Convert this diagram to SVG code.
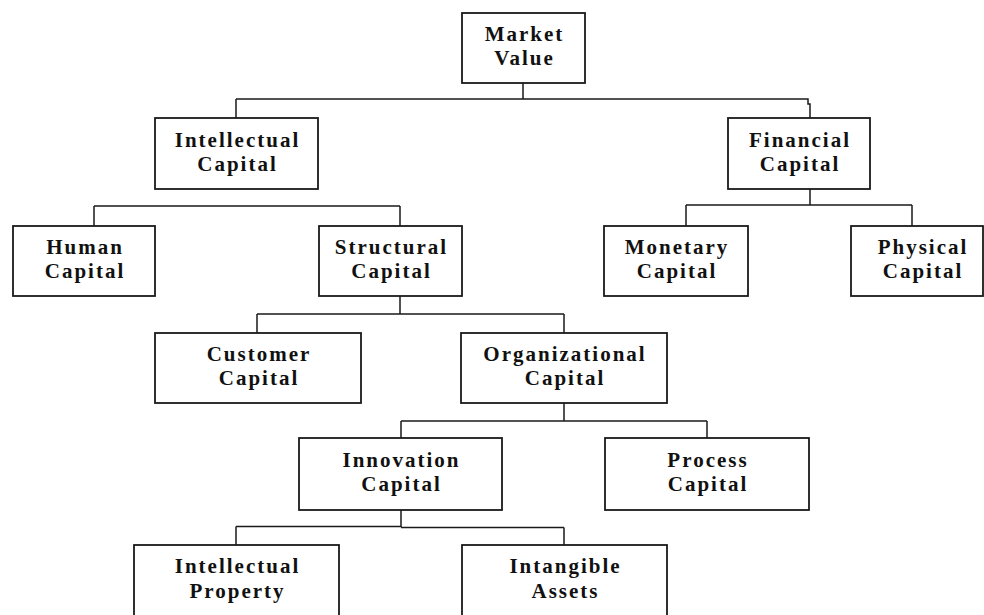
<svg xmlns="http://www.w3.org/2000/svg" width="984" height="615" viewBox="0 0 984 615">
<style>
.box{fill:#fff;stroke:#1a1a1a;stroke-width:1.8}
.ln{fill:none;stroke:#1a1a1a;stroke-width:1.5}
text{font-family:"Liberation Serif","Times New Roman",serif;font-weight:bold;font-size:21px;letter-spacing:2px;fill:#111;text-anchor:middle}
</style>
<rect width="984" height="615" fill="#fff"/>
<g id="connectors">
<path class="ln" d="M523,83 V99 M236,99 H808 V104 H810 V118 M236,99 V118"/>
<path class="ln" d="M94,206 H400 M94,206 V226 M400,206 V226"/>
<path class="ln" d="M810,189 V205 M686,205 H912 M686,205 V226 M912,205 V226"/>
<path class="ln" d="M400,296 V314 M257,314 H564 M257,314 V333 M564,314 V333"/>
<path class="ln" d="M564,403 V421 M401,421 H707 M401,421 V438 M707,421 V438"/>
<path class="ln" d="M401,510 V527 M236,526.5 H401 M401,527.5 H564 M236,526.5 V545 M564,527.5 V545"/>
</g>
<g id="market-value"><rect class="box" x="462" y="13" width="123" height="70"/><text x="524.5" y="41">Market</text><text x="524.5" y="65">Value</text></g>
<g id="intellectual-capital"><rect class="box" x="155" y="118" width="163" height="71"/><text x="237.5" y="147">Intellectual</text><text x="237.5" y="171">Capital</text></g>
<g id="financial-capital"><rect class="box" x="728" y="118" width="142" height="71"/><text x="800" y="147">Financial</text><text x="800" y="171">Capital</text></g>
<g id="human-capital"><rect class="box" x="13" y="226" width="142" height="70"/><text x="85" y="254">Human</text><text x="85" y="278">Capital</text></g>
<g id="structural-capital"><rect class="box" x="319" y="226" width="143" height="70"/><text x="391.5" y="254">Structural</text><text x="391.5" y="278">Capital</text></g>
<g id="monetary-capital"><rect class="box" x="604" y="226" width="144" height="70"/><text x="677" y="254">Monetary</text><text x="677" y="278">Capital</text></g>
<g id="physical-capital"><rect class="box" x="851" y="226" width="132" height="70"/><text x="923" y="254">Physical</text><text x="923" y="278">Capital</text></g>
<g id="customer-capital"><rect class="box" x="155" y="333" width="206" height="70"/><text x="259" y="361">Customer</text><text x="259" y="385">Capital</text></g>
<g id="organizational-capital"><rect class="box" x="461" y="333" width="206" height="70"/><text x="565" y="361">Organizational</text><text x="565" y="385">Capital</text></g>
<g id="innovation-capital"><rect class="box" x="299" y="438" width="203" height="72"/><text x="401.5" y="467">Innovation</text><text x="401.5" y="491">Capital</text></g>
<g id="process-capital"><rect class="box" x="605" y="438" width="204" height="72"/><text x="708" y="467">Process</text><text x="708" y="491">Capital</text></g>
<g id="intellectual-property"><rect class="box" x="134" y="545" width="205" height="90"/><text x="237.5" y="573">Intellectual</text><text x="237.5" y="598">Property</text></g>
<g id="intangible-assets"><rect class="box" x="462" y="545" width="205" height="90"/><text x="565.5" y="573">Intangible</text><text x="565.5" y="598">Assets</text></g>
</svg>
